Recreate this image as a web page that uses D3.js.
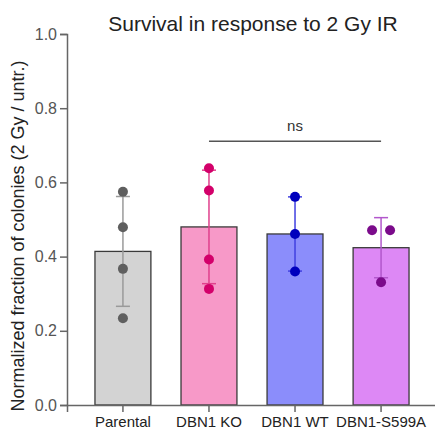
<!DOCTYPE html>
<html>
<head>
<meta charset="utf-8">
<script src="https://cdn.jsdelivr.net/npm/d3@7"></script>
<style>
  body { margin: 0; background: #fff; }
  text { font-family: "Liberation Sans", Arial, sans-serif; }
</style>
</head>
<body>
<div id="chart"></div>
<script>
const groups = ["Parental", "DBN1 KO", "DBN1 WT", "DBN1-S599A"];
const means = [0.414, 0.480, 0.461, 0.424];
const sds = [0.148, 0.153, 0.100, 0.081];
const parentalPts = [0.575, 0.479, 0.367, 0.234];
const koPts = [0.638, 0.578, 0.392, 0.313];
const wtPts = [0.561, 0.461, 0.360];
const s599aPts = [0.471, 0.471, 0.331];
const s599aOffsets = [-9, 9, 0];
const yTicks = [0.0, 0.2, 0.4, 0.6, 0.8, 1.0];

const fills = ["#d3d3d3", "#f799c8", "#8b8dfb", "#dd88f5"];
const dotColors = ["#5f5f5f", "#d3006a", "#0000bd", "#7b0b8b"];
const errColors = ["#9a9a9a", "#e0408c", "#4040e0", "#b257cc"];

const width = 435, height = 430;
const svg = d3.select("#chart").append("svg")
  .attr("width", width).attr("height", height);

const x = d3.scaleBand().domain(groups).range([67, 437])
  .paddingInner(0.35).paddingOuter(0.325);
const y = d3.scaleLinear().domain([0, 1]).range([405, 34]);

// title
svg.append("text")
  .attr("x", 253).attr("y", 31)
  .attr("text-anchor", "middle")
  .attr("font-size", 21).attr("fill", "#222")
  .text("Survival in response to 2 Gy IR");

// y label
svg.append("text")
  .attr("transform", "translate(24,236) rotate(-90)")
  .attr("text-anchor", "middle")
  .attr("font-size", 18).attr("fill", "#222")
  .text("Normalized fraction of colonies (2 Gy / untr.)");

// bars
svg.selectAll("rect.bar").data(groups).enter().append("rect")
  .attr("class", "bar")
  .attr("x", d => x(d))
  .attr("y", (d, i) => y(means[i]))
  .attr("width", x.bandwidth())
  .attr("height", (d, i) => y(0) - y(means[i]))
  .attr("fill", (d, i) => fills[i])
  .attr("stroke", "#3a3a3a").attr("stroke-width", 1.3);

// error bars
const cap = 7;
groups.forEach((g, i) => {
  const cx = x(g) + x.bandwidth() / 2;
  const lo = y(means[i] - sds[i]), hi = y(means[i] + sds[i]);
  const e = svg.append("g").attr("stroke", errColors[i]).attr("stroke-width", 1.5);
  e.append("line").attr("x1", cx).attr("x2", cx).attr("y1", lo).attr("y2", hi);
  e.append("line").attr("x1", cx - cap).attr("x2", cx + cap).attr("y1", lo).attr("y2", lo);
  e.append("line").attr("x1", cx - cap).attr("x2", cx + cap).attr("y1", hi).attr("y2", hi);
});

// points
const allPts = [parentalPts, koPts, wtPts, s599aPts];
allPts.forEach((pts, i) => {
  const cx = x(groups[i]) + x.bandwidth() / 2;
  svg.selectAll(null).data(pts).enter().append("circle")
    .attr("cx", (d, j) => cx + (i === 3 ? s599aOffsets[j] : 0))
    .attr("cy", d => y(d))
    .attr("r", 5)
    .attr("fill", dotColors[i]);
});

// axes
const yAxis = svg.append("g").attr("transform", "translate(67,0)")
  .call(d3.axisLeft(y).tickValues(yTicks).tickFormat(d3.format(".1f")).tickSize(7).tickPadding(3));
const xAxis = svg.append("g").attr("transform", "translate(0,405)")
  .call(d3.axisBottom(x).tickSize(7).tickPadding(4));
[yAxis, xAxis].forEach(a => {
  a.select(".domain").attr("stroke", "#666").attr("stroke-width", 1.5);
  a.selectAll(".tick line").attr("stroke", "#666").attr("stroke-width", 1.5);
});
yAxis.selectAll(".tick text").attr("font-size", 16).attr("fill", "#555").attr("font-family", "Liberation Sans, Arial, sans-serif");
xAxis.selectAll(".tick text").attr("font-size", 15).attr("fill", "#222").attr("font-family", "Liberation Sans, Arial, sans-serif");

// significance
const x1 = x("DBN1 KO") + x.bandwidth() / 2, x2 = x("DBN1-S599A") + x.bandwidth() / 2;
svg.append("line").attr("x1", x1).attr("x2", x2)
  .attr("y1", y(0.711)).attr("y2", y(0.711))
  .attr("stroke", "#555").attr("stroke-width", 1.5);
svg.append("text").attr("x", (x1 + x2) / 2).attr("y", y(0.738))
  .attr("text-anchor", "middle").attr("font-size", 15).attr("fill", "#333")
  .text("ns");
</script>
</body>
</html>
